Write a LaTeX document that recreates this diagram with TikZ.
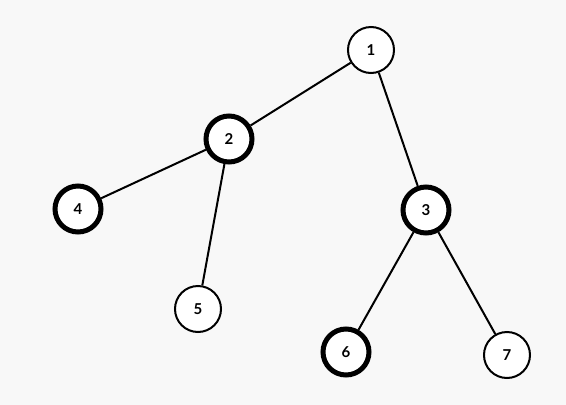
\documentclass[tikz,border=0pt]{standalone}
\usepackage{fontspec}
\setmainfont{Lato}
\definecolor{bg}{HTML}{F8F8F8}
\begin{document}
\begin{tikzpicture}[x=1pt,y=-1pt,
  vtx/.style={circle,draw=black,fill=white,line width=2pt,minimum size=46pt,inner sep=0pt,font=\bfseries\fontsize{15}{15}\selectfont},
  hvy/.style={vtx,line width=5pt,minimum size=46pt},
  edge/.style={line width=2pt}]
\fill[bg] (0,0) rectangle (566,405);
\useasboundingbox (0,0) rectangle (566,405);
\node[vtx] (n1) at (371,50) {1};
\node[hvy] (n2) at (229,139) {2};
\node[hvy] (n4) at (78,209) {4};
\node[vtx] (n5) at (198,309) {5};
\node[hvy] (n3) at (426,210) {3};
\node[hvy] (n6) at (346,352) {6};
\node[vtx] (n7) at (507,355) {7};
\draw[edge] (n1) -- (n2);
\draw[edge] (n1) -- (n3);
\draw[edge] (n2) -- (n4);
\draw[edge] (n2) -- (n5);
\draw[edge] (n3) -- (n6);
\draw[edge] (n3) -- (n7);
\end{tikzpicture}
\end{document}
